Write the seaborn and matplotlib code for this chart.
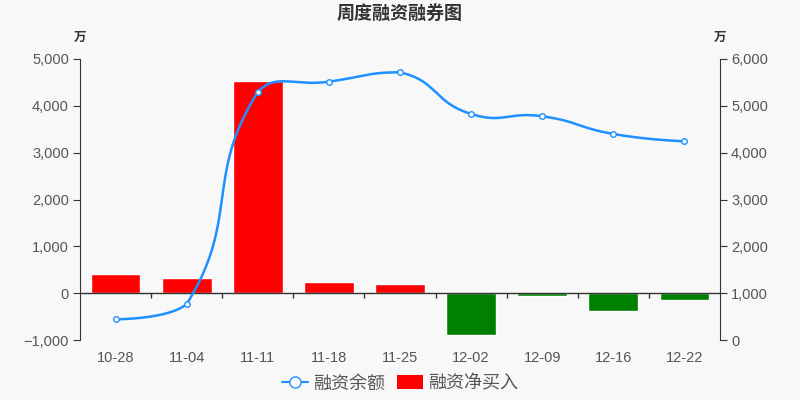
import numpy as np
import matplotlib
matplotlib.use("Agg")
import matplotlib.pyplot as plt
import seaborn as sns
from matplotlib.lines import Line2D
from matplotlib.patches import Patch
from matplotlib.ticker import FuncFormatter

sns.set_style("white")
plt.rcParams["font.family"] = ["Liberation Sans", "Noto Sans CJK SC", "DejaVu Sans"]
plt.rcParams["axes.unicode_minus"] = False

dates = ["10-28", "11-04", "11-11", "11-18", "11-25", "12-02", "12-09", "12-16", "12-22"]
net_buy = [413, 328, 4531, 235, 199, -886, -51, -372, -150]
balance = [442, 769, 5289, 5516, 5716, 4826, 4777, 4399, 4243]

BG = "#f8f8f8"
AXC = "#333333"
TXT = "#555555"
BLUE = "#1e90ff"


def smooth_path(ax, xs, ys, smooth=0.5, n=40):
    # bezier smoothing like echarts 4, control points kept inside the points' bbox
    pts = ax.transData.transform(np.column_stack([xs, ys]))
    lo, hi = pts.min(axis=0), pts.max(axis=0)
    m = len(pts)
    cin = [pts[0]] * m
    cout = [pts[0]] * m
    cin[-1] = cout[-1] = pts[-1]
    for i in range(1, m - 1):
        p, prev, nxt = pts[i], pts[i - 1], pts[i + 1]
        v = (nxt - prev) * smooth
        d0 = np.hypot(*(p - prev))
        d1 = np.hypot(*(p - nxt))
        s = d0 + d1
        cin[i] = np.clip(p - v * d0 / s, lo, hi)
        cout[i] = np.clip(p + v * d1 / s, lo, hi)
    out = [pts[0]]
    t = np.linspace(0, 1, n)[1:, None]
    for i in range(m - 1):
        p0, p3 = pts[i], pts[i + 1]
        p1, p2 = cout[i], cin[i + 1]
        seg = ((1 - t) ** 3) * p0 + 3 * ((1 - t) ** 2) * t * p1 + 3 * (1 - t) * t ** 2 * p2 + t ** 3 * p3
        out.extend(seg)
    return ax.transData.inverted().transform(np.array(out))


fig = plt.figure(figsize=(8, 4), dpi=100, facecolor=BG)
ax = fig.add_axes([0.1, 0.15, 0.8, 0.7025])
ax.set_facecolor(BG)

colors = ["#ff0000" if v >= 0 else "#008000" for v in net_buy]
sns.barplot(x=dates, y=net_buy, hue=dates, palette=colors, legend=False,
            width=0.7, ax=ax, saturation=1)

ax.set_xlim(-0.5, len(dates) - 0.5)
ax.set_ylim(-1000, 5000)
ax.set_yticks(range(-1000, 5001, 1000))
fmt = FuncFormatter(lambda v, p: f"{int(v):,}".replace("-", "\u2212"))
ax.yaxis.set_major_formatter(fmt)

for s in ["top", "right", "bottom"]:
    ax.spines[s].set_visible(False)
ax.spines["left"].set_color(AXC)
ax.tick_params(axis="y", left=True, length=5, color=AXC, labelcolor=TXT, labelsize=10.5, pad=3)
ax.tick_params(axis="x", bottom=False, length=0, labelcolor=TXT, labelsize=10.5, pad=8)
ax.set_xlabel("")
ax.set_ylabel("")

ax.axhline(0, color=AXC, lw=1, zorder=3)
ax.vlines([i + 0.5 for i in range(len(dates) - 1)], -100, 0, color=AXC, lw=1, zorder=3)

ax2 = ax.twinx()
ax2.set_ylim(0, 6000)
ax2.set_yticks(range(0, 6001, 1000))
ax2.yaxis.set_major_formatter(fmt)
for s in ["top", "left", "bottom"]:
    ax2.spines[s].set_visible(False)
ax2.spines["right"].set_color(AXC)
ax2.tick_params(axis="y", right=True, length=5, color=AXC, labelcolor=TXT, labelsize=10.5, pad=3)
ax2.set_ylabel("")

xs = np.arange(len(dates))
curve = smooth_path(ax2, xs, balance)
ax2.plot(curve[:, 0], curve[:, 1], color=BLUE, lw=1.8, zorder=4)
ax2.plot(xs, balance, ls="none", marker="o", ms=4, mfc="white", mec=BLUE, mew=1, zorder=5)

fig.text(0.5, 0.965, "周度融资融券图", ha="center", va="center",
         fontsize=13, fontweight="bold", color=AXC)
fig.text(0.1, 0.905, "万", ha="center", va="center", fontsize=9, fontweight="bold", color=AXC)
fig.text(0.9, 0.905, "万", ha="center", va="center", fontsize=9, fontweight="bold", color=AXC)

handles = [
    Line2D([0], [0], color=BLUE, lw=1.5, marker="o", ms=8, mfc="white", mec=BLUE),
    Patch(facecolor="#ff0000", edgecolor="none"),
]
fig.legend(handles, ["融资余额", "融资净买入"], loc="center", bbox_to_anchor=(0.5, 0.04),
           ncol=2, frameon=False, fontsize=13, labelcolor=TXT, handlelength=1.45,
           handleheight=0.8, columnspacing=0.65, handletextpad=0.3)

fig.savefig("out.png", dpi=100, facecolor=BG)
